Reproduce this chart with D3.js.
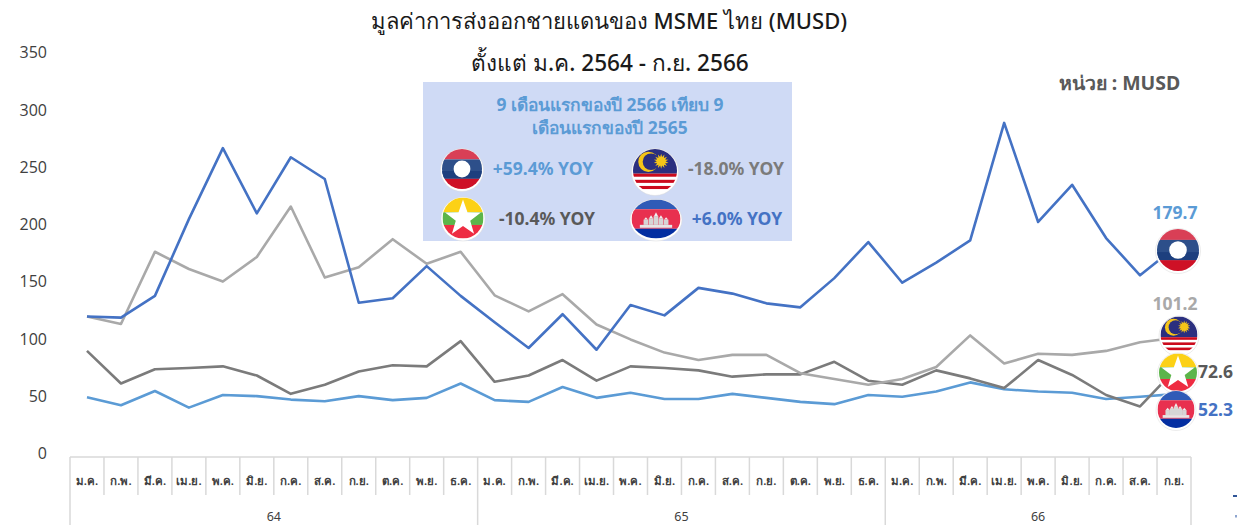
<!DOCTYPE html>
<html lang="th"><head><meta charset="utf-8">
<script src="https://cdn.jsdelivr.net/npm/d3@7/dist/d3.min.js"></script>
<style>html,body{margin:0;background:#fff}svg{display:block}text{font-family:"Noto Sans","Open Sans",sans-serif}</style>
</head><body><svg id="c" width="1237" height="525"></svg>
<script>
const months = ["ม.ค.","ก.พ.","มี.ค.","เม.ย.","พ.ค.","มิ.ย.","ก.ค.","ส.ค.","ก.ย.","ต.ค.","พ.ย.","ธ.ค."];
const years = ["64","65","66"];
const monthsInYear = [12,12,9];
const yTicks = [0,50,100,150,200,250,300,350];
const laos = [120,119,138,205,267,210,259,240,132,136,164,138,115,92.5,122,91,130,121,145,140,131.5,128,153.5,185,149.5,167,186.5,289,202.5,235,188.5,156,179.7];
const malaysia = [120,113.5,176.5,161.5,150.5,172,216,154,163,187.5,166,176.5,138.5,124.5,139.5,113,100,88.5,82,86.5,86.5,70.5,65.5,60.5,65.5,76,103.5,79,87.5,86.5,90,97.5,101.2];
const myanmar = [90,61.5,74,75,76.5,68.5,52.5,60.5,72,77.5,76.5,98.5,63,68.5,82,64,76.5,75,73,67.5,69.5,69.5,80.5,64,60.5,73,66,57.5,82,69,51.5,41.5,72.6];
const cambodia = [49.5,42.5,55,40.5,51.5,50.5,47.5,46,50.5,47,49,61.5,47,45.5,58.5,49,53.5,48,48,52.5,49,45.5,43.5,51.5,50,54.5,62.5,56.5,54.5,53.5,48,50,52.3];
const seriesNames = ["laos","malaysia","myanmar","cambodia"];
const seriesValues = [laos,malaysia,myanmar,cambodia];
const seriesColors = ["#4472c4","#a9a9a9","#7b7b7b","#5b9bd5"];
const drawOrder = [3,2,1,0];

const svg = d3.select("#c");
const y = d3.scaleLinear().domain([0,350]).range([454,53]);
const labels = years.flatMap((yr,i)=>months.slice(0,monthsInYear[i]).map(m=>yr+"-"+m));
const x = d3.scaleBand().domain(labels).range([70,1191]);
const cx = k => x(k)+x.bandwidth()/2;

// y axis
const ya = svg.append("g").attr("transform","translate(47,0)").call(d3.axisLeft(y).tickValues(yTicks).tickSize(0));
ya.select(".domain").remove();
ya.selectAll("text").attr("x",0).attr("dy","0.3em").attr("font-size",16).attr("fill","#404040").style("font-family",'"Open Sans",sans-serif');

// category table
const grid = svg.append("g").attr("stroke","#d9d9d9").attr("stroke-width",1.5);
grid.append("line").attr("x1",70).attr("x2",1191).attr("y1",457).attr("y2",457);
labels.forEach((k,i)=>{
  const isYear = i%12===0;
  grid.append("line").attr("x1",x(k)).attr("x2",x(k)).attr("y1",457).attr("y2",isYear?525:495);
});
grid.append("line").attr("x1",1191).attr("x2",1191).attr("y1",457).attr("y2",525);
svg.append("g").selectAll("text").data(labels).join("text")
  .attr("x",cx).attr("y",485).attr("text-anchor","middle").attr("font-size",11.5).attr("font-weight",600).attr("fill","#404040")
  .text(k=>k.split("-")[1]);
let start=0;
years.forEach((yr,i)=>{
  const a=x(labels[start]), b=x(labels[start+monthsInYear[i]-1])+x.bandwidth();
  svg.append("text").attr("x",(a+b)/2).attr("y",521).attr("text-anchor","middle").attr("font-size",12.5).attr("fill","#404040").text(yr);
  start+=monthsInYear[i];
});

// lines
const line = d3.line().x((d,i)=>cx(labels[i])).y(d=>y(d));
drawOrder.forEach(s=>{
  svg.append("path").datum(seriesValues[s]).attr("fill","none").attr("stroke",seriesColors[s])
    .attr("stroke-width",2.6).attr("stroke-linejoin","round").attr("data-series",seriesNames[s]).attr("d",line);
});

// titles
svg.append("text").attr("x",609).attr("y",29).attr("text-anchor","middle").attr("font-size",22).attr("font-weight",500).attr("fill","#1a1a1a").text("มูลค่าการส่งออกชายแดนของ MSME ไทย (MUSD)");
svg.append("text").attr("x",610).attr("y",71).attr("text-anchor","middle").attr("font-size",22.6).attr("font-weight",500).attr("fill","#1a1a1a").text("ตั้งแต่ ม.ค. 2564 - ก.ย. 2566");
svg.append("text").attr("x",1119.5).attr("y",90).attr("text-anchor","middle").attr("font-size",19.5).attr("font-weight",700).attr("fill","#595959").text("หน่วย : MUSD");

// panel
svg.append("rect").attr("x",423).attr("y",82).attr("width",369).attr("height",159).attr("fill","#cfdaf5");
const bold = (t,xx,yy,fs,col,anchor="middle")=>svg.append("text").attr("x",xx).attr("y",yy).attr("text-anchor",anchor).attr("font-size",fs).attr("font-weight",700).attr("fill",col).text(t);
bold("9 เดือนแรกของปี 2566 เทียบ 9",610,111,17.4,"#5b9bd5");
bold("เดือนแรกของปี 2565",610,134,17.4,"#5b9bd5");
bold("+59.4% YOY",543,175,17.5,"#5b9bd5");
bold("-18.0% YOY",736,175,17.5,"#7b7b7b");
bold("-10.4% YOY",547,225,17.5,"#595959");
bold("+6.0% YOY",737,225,17.5,"#4472c4");

// end labels
bold("179.7",1175,219,17.5,"#5b9bd5");
bold("101.2",1175,310,17.5,"#a9a9a9");
bold("72.6",1198,378,17.5,"#595959","start");
bold("52.3",1198,416,17.5,"#4472c4","start");

// flags
const defs = svg.append("defs");
let fid=0;
function flagBase(fx,fy,rx,ry){
  const id="f"+(fid++);
  defs.append("clipPath").attr("id",id).append("ellipse").attr("cx",fx).attr("cy",fy).attr("rx",rx).attr("ry",ry);
  svg.append("ellipse").attr("cx",fx).attr("cy",fy+1).attr("rx",rx+1.5).attr("ry",ry+1.5).attr("fill","#fff").attr("stroke","#d8d8d8").attr("stroke-width",.5);
  const g=svg.append("g").attr("clip-path",`url(#${id})`);
  const band=(a,b,c)=>g.append("rect").attr("x",fx-rx).attr("width",2*rx).attr("y",fy-ry+a*2*ry).attr("height",(b-a)*2*ry).attr("fill",c);
  return {g,band};
}
function starPts(fx,fy,R,r,n=5){
  return d3.range(n*2).map(i=>{const a=-Math.PI/2+i*Math.PI/n,q=i%2?r:R;return [fx+q*Math.cos(a),fy+q*Math.sin(a)].join(",")}).join(" ");
}
function laosFlag(fx,fy,r){
  const {g,band}=flagBase(fx,fy,r,r);
  band(0,.26,"#d93f56");band(.26,.74,"#2d4f8a");band(.74,1,"#ce1126");
  band(.55,.74,"#1d3f7e");
  g.append("circle").attr("cx",fx).attr("cy",fy).attr("r",r*.42).attr("fill","#fff");
}
function malaysiaFlag(fx,fy,r){
  const {g,band}=flagBase(fx,fy,r,r);
  band(0,1,"#fff");band(0,.56,"#2b2f7f");
  [.56,.7,.84].forEach(a=>band(a,a+.07,"#cc0a1c"));
  const cxx=fx-r*.3,cyy=fy-r*.42;
  g.append("circle").attr("cx",cxx).attr("cy",cyy).attr("r",r*.46).attr("fill","#f5c518");
  g.append("circle").attr("cx",cxx+r*.12).attr("cy",cyy).attr("r",r*.38).attr("fill","#2b2f7f");
  g.append("polygon").attr("points",starPts(fx+r*.28,fy-r*.44,r*.34,r*.2,14)).attr("fill","#f5c518");
}
function myanmarFlag(fx,fy,r){
  const {g,band}=flagBase(fx,fy,r,r);
  band(0,.36,"#fcd116");band(.36,.67,"#5cb54a");band(.67,1,"#ee2c42");
  g.append("polygon").attr("points",starPts(fx,fy+r*.02,r*.92,r*.37)).attr("fill","#fff");
}
function cambodiaFlag(fx,fy,rx,ry){
  const {g,band}=flagBase(fx,fy,rx,ry);
  band(0,.25,"#2f5bb7");band(.25,.75,"#e8304f");band(.75,1,"#032ea1");
  const s=ry/20;
  const w=Math.min(rx,ry*1.15);
  g.append("rect").attr("x",fx-w*.72).attr("y",fy+6*s).attr("width",w*1.44).attr("height",3*s).attr("fill","#e6e6e6");
  [[-.45,.6],[-.22,.75],[0,1],[.22,.75],[.45,.6]].forEach(([o,h])=>{
    g.append("rect").attr("x",fx+o*w-2.4*s).attr("y",fy+6*s-9*s*h).attr("width",4.8*s).attr("height",9*s*h).attr("fill","#d6d6d6");
    g.append("polygon").attr("points",`${fx+o*w-2*s},${fy+6*s-9*s*h} ${fx+o*w},${fy+6*s-13*s*h} ${fx+o*w+2*s},${fy+6*s-9*s*h}`).attr("fill","#efefef");
  });
}
laosFlag(462,169,20);
malaysiaFlag(655,171,22);
myanmarFlag(463,218,20.5);
cambodiaFlag(656,219,24.5,19.5);
laosFlag(1178,250,21);
malaysiaFlag(1179,335,18.5);
myanmarFlag(1178,372.5,19);
cambodiaFlag(1176,409.5,18.5,18.5);

// clipped remnants at the right edge of the source image
svg.append("rect").attr("x",1233).attr("y",495).attr("width",4).attr("height",2).attr("fill","#2f5597");
svg.append("rect").attr("x",1235).attr("y",515).attr("width",2).attr("height",2.5).attr("fill","#8ea5cf");
</script></body></html>
